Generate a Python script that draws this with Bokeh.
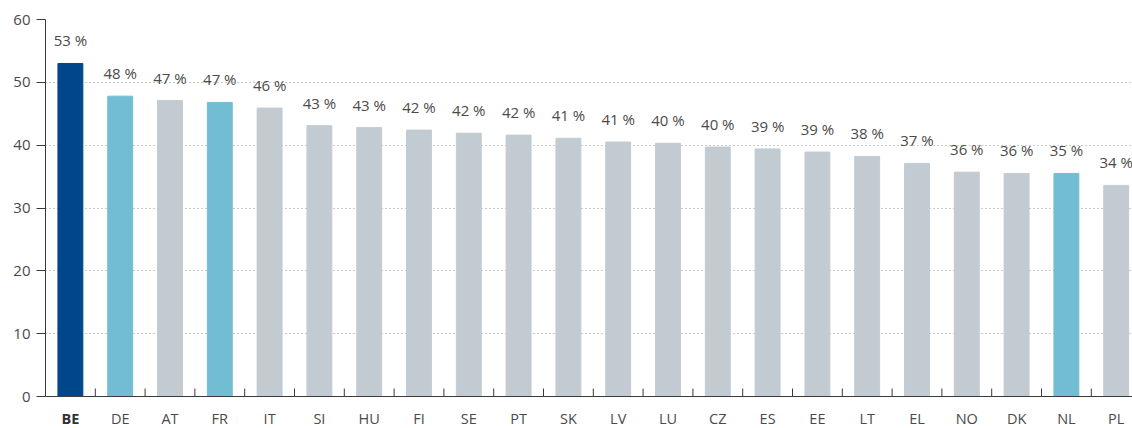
from bokeh.plotting import figure
from bokeh.models import FixedTicker, ColumnDataSource, Range1d, Span
from bokeh.embed import file_html
from bokeh.resources import INLINE
from bokeh.core.properties import value

countries = ["BE", "DE", "AT", "FR", "IT", "SI", "HU", "FI", "SE", "PT", "SK",
             "LV", "LU", "CZ", "ES", "EE", "LT", "EL", "NO", "DK", "NL", "PL"]
values = [53.0, 47.8, 47.1, 46.8, 45.9, 43.1, 42.8, 42.4, 41.9, 41.6, 41.1,
          40.5, 40.3, 39.7, 39.4, 38.9, 38.2, 37.1, 35.7, 35.5, 35.5, 33.6]
labels = ["53 %", "48 %", "47 %", "47 %", "46 %", "43 %", "43 %", "42 %", "42 %", "42 %", "41 %",
          "41 %", "40 %", "40 %", "39 %", "39 %", "38 %", "37 %", "36 %", "36 %", "35 %", "34 %"]
highlight = {"BE": "#00468B", "DE": "#72BDD3", "FR": "#72BDD3", "NL": "#72BDD3"}
bold_country = "BE"
y_ticks = [0, 10, 20, 30, 40, 50, 60]

FONT = "Open Sans"
TEXT = "#4a4a4a"
AXIS = "#3a3a3a"

xs = list(range(len(countries)))
colors = [highlight.get(c, "#C2CBD1") for c in countries]
src = ColumnDataSource(dict(x=xs, top=values, color=colors, label=labels))

W, H = 1132, 428
left, top, bottom_px = 45, 19, 396          # frame left, y=60 pixel, y=0 pixel
px_per_unit = (bottom_px - top) / 60.0
y_min = -(H - bottom_px) / px_per_unit
x_unit = 49.8
x_max = -0.5 + (W - left) / x_unit

p = figure(width=W, height=H, output_backend="svg", toolbar_location=None,
           x_range=Range1d(-0.5, x_max), y_range=Range1d(y_min, 60),
           min_border_left=left, min_border_right=0, min_border_top=top, min_border_bottom=0)
p.outline_line_color = None

p.vbar(x="x", top="top", width=0.5, bottom=0, color="color", source=src)
p.text(x="x", y="top", text="label", source=src, text_align="center",
       text_baseline="alphabetic", y_offset=-23, text_font=value(FONT),
       text_font_size="15px", text_color=TEXT)

# y axis limited to 0..60
p.yaxis.bounds = (0, 60)
p.yaxis.ticker = FixedTicker(ticks=y_ticks)
p.yaxis.axis_line_color = AXIS
p.yaxis.major_tick_line_color = AXIS
p.yaxis.major_tick_out = 9
p.yaxis.major_tick_in = 0
p.yaxis.minor_tick_line_color = None
p.yaxis.major_label_text_font = FONT
p.yaxis.major_label_text_font_size = "15px"
p.yaxis.major_label_text_color = TEXT
p.yaxis.major_label_standoff = 6

# x axis drawn inside the frame
p.xaxis.visible = False
p.add_layout(Span(location=0, dimension="width", line_color=AXIS, line_width=1))
bx = [i + 0.5 for i in xs[:-1]]
tick_len = 8 / px_per_unit
p.segment(x0=bx, y0=[0] * len(bx), x1=bx, y1=[tick_len] * len(bx), line_color=AXIS, line_width=1)

norm_idx = [i for i, c in enumerate(countries) if c != bold_country]
p.text(x=norm_idx, y=[0] * len(norm_idx), text=[countries[i] for i in norm_idx],
       text_align="center", text_baseline="middle", y_offset=22,
       text_font=value(FONT), text_font_size="14.5px", text_color=TEXT)
bi = countries.index(bold_country)
p.text(x=[bi], y=[0], text=[bold_country], text_align="center", text_baseline="middle", y_offset=22,
       text_font=value(FONT), text_font_size="14.5px", text_font_style="bold", text_color="#333333")

p.xgrid.grid_line_color = None
p.ygrid.ticker = FixedTicker(ticks=y_ticks[1:])
p.ygrid.grid_line_color = "#999999"
p.ygrid.grid_line_dash = "1 3"

open("out.html", "w").write(file_html(p, INLINE))
